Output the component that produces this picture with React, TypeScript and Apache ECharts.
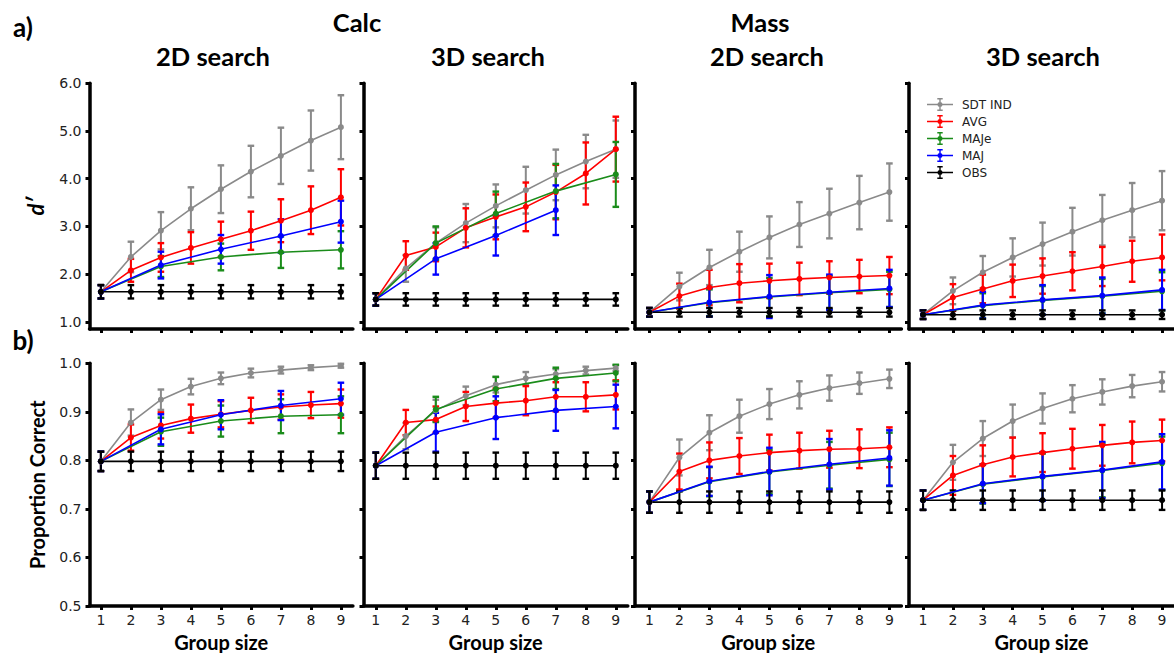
import React, { useEffect, useRef } from "react";
import * as echarts from "echarts";

// ---------- categories / labels ----------
const groupSizes = [1, 2, 3, 4, 5, 6, 7, 8, 9];
const seriesNames = ["SDT IND", "AVG", "MAJe", "MAJ", "OBS"];
const seriesColors = ["#8a8a8a", "#ff0000", "#1a8c1a", "#0000ff", "#000000"];
const columnTitles = ["2D search", "3D search", "2D search", "3D search"];
const taskTitles = ["Calc", "Mass"];
const rowLabels = ["a)", "b)"];
const rowYNames = ["d\u2032", "Proportion Correct"];
const xAxisName = "Group size";
const dPrimeTicks = [1, 2, 3, 4, 5, 6];
const pcTicks = [0.5, 0.6, 0.7, 0.8, 0.9, 1.0];

// ---------- a) d' : Calc 2D ----------
const calc2dD_sdt = [1.63, 2.36, 2.91, 3.37, 3.78, 4.15, 4.48, 4.80, 5.08];
const calc2dD_sdtErr = [0.14, 0.32, 0.39, 0.45, 0.50, 0.54, 0.59, 0.63, 0.67];
const calc2dD_avg = [1.63, 2.08, 2.35, 2.55, 2.73, 2.91, 3.12, 3.34, 3.61];
const calc2dD_avgErr = [0.14, 0.24, 0.30, 0.33, 0.37, 0.40, 0.45, 0.50, 0.59];
const calc2dD_maje = [1.63, null, 2.16, null, 2.36, null, 2.46, null, 2.51];
const calc2dD_majeErr = [0.14, null, 0.22, null, 0.28, null, 0.33, null, 0.39];
const calc2dD_maj = [1.63, null, 2.19, null, 2.52, null, 2.80, null, 3.10];
const calc2dD_majErr = [0.14, null, 0.28, null, 0.30, null, 0.35, null, 0.44];
const calc2dD_obs = [1.63, 1.63, 1.63, 1.63, 1.63, 1.63, 1.63, 1.63, 1.63];
const calc2dD_obsErr = [0.14, 0.14, 0.14, 0.14, 0.14, 0.14, 0.14, 0.14, 0.14];

// ---------- a) d' : Calc 3D ----------
const calc3dD_sdt = [1.47, 2.12, 2.65, 3.07, 3.43, 3.76, 4.08, 4.36, 4.62];
const calc3dD_sdtErr = [0.13, 0.28, 0.33, 0.40, 0.45, 0.49, 0.53, 0.56, 0.60];
const calc3dD_avg = [1.47, 2.39, 2.57, 2.97, 3.20, 3.41, 3.72, 4.11, 4.62];
const calc3dD_avgErr = [0.13, 0.30, 0.30, 0.41, 0.47, 0.51, 0.57, 0.65, 0.68];
const calc3dD_maje = [1.47, null, 2.65, null, 3.27, null, 3.74, null, 4.09];
const calc3dD_majeErr = [0.13, null, 0.35, null, 0.46, null, 0.57, null, 0.68];
const calc3dD_maj = [1.47, null, 2.32, null, 2.81, null, 3.34, null, null];
const calc3dD_majErr = [0.13, null, 0.33, null, 0.42, null, 0.52, null, null];
const calc3dD_obs = [1.47, 1.47, 1.47, 1.47, 1.47, 1.47, 1.47, 1.47, 1.47];
const calc3dD_obsErr = [0.13, 0.13, 0.13, 0.13, 0.13, 0.13, 0.13, 0.13, 0.13];

// ---------- a) d' : Mass 2D ----------
const mass2dD_sdt = [1.20, 1.74, 2.14, 2.47, 2.77, 3.04, 3.27, 3.50, 3.72];
const mass2dD_sdtErr = [0.09, 0.29, 0.37, 0.42, 0.44, 0.47, 0.52, 0.56, 0.60];
const mass2dD_avg = [1.20, 1.54, 1.72, 1.81, 1.86, 1.90, 1.93, 1.95, 1.97];
const mass2dD_avgErr = [0.09, 0.26, 0.37, 0.40, 0.36, 0.34, 0.34, 0.35, 0.39];
const mass2dD_maje = [1.20, null, 1.40, null, 1.52, null, 1.61, null, 1.68];
const mass2dD_majeErr = [0.09, null, 0.28, null, 0.40, null, 0.35, null, 0.37];
const mass2dD_maj = [1.20, null, 1.41, null, 1.53, null, 1.62, null, 1.70];
const mass2dD_majErr = [0.09, null, 0.30, null, 0.45, null, 0.37, null, 0.39];
const mass2dD_obs = [1.20, 1.20, 1.20, 1.20, 1.20, 1.20, 1.20, 1.20, 1.20];
const mass2dD_obsErr = [0.09, 0.09, 0.09, 0.09, 0.09, 0.09, 0.09, 0.09, 0.09];

// ---------- a) d' : Mass 3D ----------
const mass3dD_sdt = [1.15, 1.65, 2.04, 2.35, 2.63, 2.89, 3.13, 3.34, 3.54];
const mass3dD_sdtErr = [0.09, 0.28, 0.34, 0.40, 0.45, 0.50, 0.53, 0.57, 0.62];
const mass3dD_avg = [1.15, 1.51, 1.69, 1.86, 1.96, 2.06, 2.16, 2.27, 2.35];
const mass3dD_avgErr = [0.09, 0.28, 0.30, 0.34, 0.37, 0.40, 0.41, 0.43, 0.48];
const mass3dD_maje = [1.15, null, 1.34, null, 1.45, null, 1.54, null, 1.64];
const mass3dD_majeErr = [0.09, null, 0.26, null, 0.30, null, 0.36, null, 0.40];
const mass3dD_maj = [1.15, null, 1.35, null, 1.46, null, 1.55, null, 1.67];
const mass3dD_majErr = [0.09, null, 0.28, null, 0.31, null, 0.38, null, 0.42];
const mass3dD_obs = [1.15, 1.15, 1.15, 1.15, 1.15, 1.15, 1.15, 1.15, 1.15];
const mass3dD_obsErr = [0.09, 0.09, 0.09, 0.09, 0.09, 0.09, 0.09, 0.09, 0.09];

// ---------- b) proportion correct : Calc 2D ----------
const calc2dP_sdt = [0.798, 0.878, 0.925, 0.952, 0.969, 0.980, 0.986, 0.991, 0.995];
const calc2dP_sdtErr = [0.020, 0.027, 0.021, 0.016, 0.012, 0.009, 0.007, 0.005, 0.004];
const calc2dP_avg = [0.798, 0.847, 0.872, 0.886, 0.895, 0.903, 0.910, 0.914, 0.917];
const calc2dP_avgErr = [0.020, 0.027, 0.027, 0.029, 0.027, 0.026, 0.026, 0.027, 0.029];
const calc2dP_maje = [0.798, null, 0.859, null, 0.881, null, 0.891, null, 0.894];
const calc2dP_majeErr = [0.020, null, 0.029, null, 0.032, null, 0.035, null, 0.038];
const calc2dP_maj = [0.798, null, 0.864, null, 0.894, null, 0.913, null, 0.927];
const calc2dP_majErr = [0.020, null, 0.031, null, 0.030, null, 0.030, null, 0.033];
const calc2dP_obs = [0.798, 0.798, 0.798, 0.798, 0.798, 0.798, 0.798, 0.798, 0.798];
const calc2dP_obsErr = [0.020, 0.020, 0.020, 0.020, 0.020, 0.020, 0.020, 0.020, 0.020];

// ---------- b) proportion correct : Calc 3D ----------
const calc3dP_sdt = [0.789, 0.850, 0.903, 0.933, 0.956, 0.969, 0.978, 0.985, 0.990];
const calc3dP_sdtErr = [0.027, 0.027, 0.022, 0.019, 0.016, 0.013, 0.010, 0.008, 0.006];
const calc3dP_avg = [0.789, 0.878, 0.884, 0.911, 0.918, 0.923, 0.931, 0.931, 0.935];
const calc3dP_avgErr = [0.027, 0.026, 0.027, 0.030, 0.030, 0.030, 0.030, 0.030, 0.030];
const calc3dP_maje = [0.789, null, 0.905, null, 0.947, null, 0.969, null, 0.980];
const calc3dP_majeErr = [0.027, null, 0.026, null, 0.025, null, 0.022, null, 0.017];
const calc3dP_maj = [0.789, null, 0.858, null, 0.888, null, 0.903, null, 0.911];
const calc3dP_majErr = [0.027, null, 0.040, null, 0.044, null, 0.042, null, 0.045];
const calc3dP_obs = [0.789, 0.789, 0.789, 0.789, 0.789, 0.789, 0.789, 0.789, 0.789];
const calc3dP_obsErr = [0.027, 0.027, 0.027, 0.027, 0.027, 0.027, 0.027, 0.027, 0.027];

// ---------- b) proportion correct : Mass 2D ----------
const mass2dP_sdt = [0.714, 0.806, 0.857, 0.891, 0.916, 0.935, 0.949, 0.959, 0.968];
const mass2dP_sdtErr = [0.022, 0.037, 0.036, 0.034, 0.031, 0.028, 0.026, 0.022, 0.019];
const mass2dP_avg = [0.714, 0.777, 0.800, 0.809, 0.816, 0.820, 0.823, 0.824, 0.827];
const mass2dP_avgErr = [0.022, 0.037, 0.037, 0.037, 0.037, 0.037, 0.038, 0.040, 0.041];
const mass2dP_maje = [0.714, null, 0.756, null, 0.776, null, 0.790, null, 0.802];
const mass2dP_majeErr = [0.022, null, 0.030, null, 0.045, null, 0.048, null, 0.055];
const mass2dP_maj = [0.714, null, 0.757, null, 0.777, null, 0.792, null, 0.805];
const mass2dP_majErr = [0.022, null, 0.030, null, 0.049, null, 0.052, null, 0.057];
const mass2dP_obs = [0.714, 0.714, 0.714, 0.714, 0.714, 0.714, 0.714, 0.714, 0.714];
const mass2dP_obsErr = [0.022, 0.022, 0.022, 0.022, 0.022, 0.022, 0.022, 0.022, 0.022];

// ---------- b) proportion correct : Mass 3D ----------
const mass3dP_sdt = [0.718, 0.796, 0.845, 0.881, 0.907, 0.927, 0.941, 0.953, 0.962];
const mass3dP_sdtErr = [0.020, 0.036, 0.036, 0.034, 0.031, 0.028, 0.026, 0.023, 0.020];
const mass3dP_avg = [0.718, 0.769, 0.791, 0.807, 0.816, 0.824, 0.831, 0.837, 0.841];
const mass3dP_avgErr = [0.020, 0.040, 0.040, 0.040, 0.040, 0.041, 0.042, 0.043, 0.043];
const mass3dP_maje = [0.718, null, 0.751, null, 0.766, null, 0.779, null, 0.794];
const mass3dP_majeErr = [0.020, null, 0.040, null, 0.048, null, 0.055, null, 0.055];
const mass3dP_maj = [0.718, null, 0.752, null, 0.767, null, 0.780, null, 0.797];
const mass3dP_majErr = [0.020, null, 0.040, null, 0.050, null, 0.058, null, 0.057];
const mass3dP_obs = [0.718, 0.718, 0.718, 0.718, 0.718, 0.718, 0.718, 0.718, 0.718];
const mass3dP_obsErr = [0.020, 0.020, 0.020, 0.020, 0.020, 0.020, 0.020, 0.020, 0.020];

type Arr = (number | null)[];
interface Panel { row: number; col: number; means: Arr[]; errs: Arr[] }

const panels: Panel[] = [
  { row: 0, col: 0, means: [calc2dD_sdt, calc2dD_avg, calc2dD_maje, calc2dD_maj, calc2dD_obs], errs: [calc2dD_sdtErr, calc2dD_avgErr, calc2dD_majeErr, calc2dD_majErr, calc2dD_obsErr] },
  { row: 0, col: 1, means: [calc3dD_sdt, calc3dD_avg, calc3dD_maje, calc3dD_maj, calc3dD_obs], errs: [calc3dD_sdtErr, calc3dD_avgErr, calc3dD_majeErr, calc3dD_majErr, calc3dD_obsErr] },
  { row: 0, col: 2, means: [mass2dD_sdt, mass2dD_avg, mass2dD_maje, mass2dD_maj, mass2dD_obs], errs: [mass2dD_sdtErr, mass2dD_avgErr, mass2dD_majeErr, mass2dD_majErr, mass2dD_obsErr] },
  { row: 0, col: 3, means: [mass3dD_sdt, mass3dD_avg, mass3dD_maje, mass3dD_maj, mass3dD_obs], errs: [mass3dD_sdtErr, mass3dD_avgErr, mass3dD_majeErr, mass3dD_majErr, mass3dD_obsErr] },
  { row: 1, col: 0, means: [calc2dP_sdt, calc2dP_avg, calc2dP_maje, calc2dP_maj, calc2dP_obs], errs: [calc2dP_sdtErr, calc2dP_avgErr, calc2dP_majeErr, calc2dP_majErr, calc2dP_obsErr] },
  { row: 1, col: 1, means: [calc3dP_sdt, calc3dP_avg, calc3dP_maje, calc3dP_maj, calc3dP_obs], errs: [calc3dP_sdtErr, calc3dP_avgErr, calc3dP_majeErr, calc3dP_majErr, calc3dP_obsErr] },
  { row: 1, col: 2, means: [mass2dP_sdt, mass2dP_avg, mass2dP_maje, mass2dP_maj, mass2dP_obs], errs: [mass2dP_sdtErr, mass2dP_avgErr, mass2dP_majeErr, mass2dP_majErr, mass2dP_obsErr] },
  { row: 1, col: 3, means: [mass3dP_sdt, mass3dP_avg, mass3dP_maje, mass3dP_maj, mass3dP_obs], errs: [mass3dP_sdtErr, mass3dP_avgErr, mass3dP_majeErr, mass3dP_majErr, mass3dP_obsErr] },
];

// ---------- layout ----------
const colLeft = [89.5, 363.5, 635, 909];
const colXMin = [0.62, 0.59, 0.52, 0.53];
const xMaxVal = 9.4;
const unitPx = 30;
const rowTop = [83.3, 363.3];
const rowHeight = [245.7, 245];
const rowYMin = [0.85, 0.5];
const rowYMax = [6, 1];
const rowTicks = [dPrimeTicks, pcTicks];

const tickFont = "DejaVu Sans";
const titleFont = "Lato";

const legendIcon =
  "path://M0,6.3H26V7.7H0Z M12.3,1.2H13.7V12.8H12.3Z M10.3,0.5H15.7V2H10.3Z M10.3,12H15.7V13.5H10.3Z M13,4.4A2.6,2.6 0 1 1 12.99,4.4Z";

function makeErrorRender(color: string) {
  return (params: any, api: any) => {
    const x = api.value(0);
    const lo = api.value(1);
    const hi = api.value(2);
    const pLo = api.coord([x, lo]);
    const pHi = api.coord([x, hi]);
    const hw = 3.3;
    const st = { stroke: color, lineWidth: 2 };
    const cap = { stroke: color, lineWidth: 2.4 };
    return {
      type: "group",
      children: [
        { type: "line", shape: { x1: pLo[0], y1: pLo[1], x2: pHi[0], y2: pHi[1] }, style: st },
        { type: "line", shape: { x1: pLo[0] - hw, y1: pLo[1], x2: pLo[0] + hw, y2: pLo[1] }, style: cap },
        { type: "line", shape: { x1: pHi[0] - hw, y1: pHi[1], x2: pHi[0] + hw, y2: pHi[1] }, style: cap },
      ],
    };
  };
}

function buildOption() {
  const grids: any[] = [];
  const xAxes: any[] = [];
  const yAxes: any[] = [];
  const series: any[] = [];

  panels.forEach((p, pi) => {
    const xMin = colXMin[p.col];
    grids.push({
      left: colLeft[p.col],
      top: rowTop[p.row],
      width: (xMaxVal - xMin) * unitPx,
      height: rowHeight[p.row],
      containLabel: false,
    });
    const bottomRow = p.row === 1;
    xAxes.push({
      type: "value",
      gridIndex: pi,
      min: xMin,
      max: xMaxVal,
      splitLine: { show: false },
      axisLine: { show: true, onZero: false, lineStyle: { color: "#000", width: 3.5 } },
      axisTick: { show: true, customValues: groupSizes, length: 4, lineStyle: { color: "#000", width: 3 } },
      axisLabel: {
        show: bottomRow,
        customValues: groupSizes,
        margin: 7,
        fontFamily: tickFont,
        fontSize: 14,
        color: "#222",
      },
      name: bottomRow ? xAxisName : "",
      nameLocation: "middle",
      nameGap: 26,
      nameTextStyle: { fontFamily: titleFont, fontWeight: "bold", fontSize: 20, color: "#000" },
    });
    const firstCol = p.col === 0;
    yAxes.push({
      type: "value",
      gridIndex: pi,
      min: rowYMin[p.row],
      max: rowYMax[p.row],
      splitLine: { show: false },
      axisLine: { show: true, onZero: false, lineStyle: { color: "#000", width: 3.5 } },
      axisTick: { show: true, customValues: rowTicks[p.row], length: 4, lineStyle: { color: "#000", width: 3 } },
      axisLabel: {
        show: firstCol,
        customValues: rowTicks[p.row],
        formatter: (v: number) => v.toFixed(1),
        margin: 8,
        fontFamily: tickFont,
        fontSize: 14,
        color: "#222",
      },
      name: firstCol ? rowYNames[p.row] : "",
      nameLocation: "middle",
      nameRotate: 90,
      nameGap: 43,
      nameTextStyle: {
        fontFamily: titleFont,
        fontWeight: "bold",
        fontStyle: p.row === 0 ? "italic" : "normal",
        fontSize: p.row === 0 ? 22 : 20,
        color: "#000",
      },
    });

    seriesNames.forEach((name, si) => {
      const m = p.means[si];
      const e = p.errs[si];
      const color = seriesColors[si];
      const pts = groupSizes
        .map((g, i) => (m[i] == null ? null : [g, m[i] as number]))
        .filter((d) => d !== null);
      const bars = groupSizes
        .map((g, i) =>
          m[i] == null || e[i] == null ? null : [g, (m[i] as number) - (e[i] as number), (m[i] as number) + (e[i] as number)]
        )
        .filter((d) => d !== null);
      series.push({
        type: "custom",
        name: name + " error",
        xAxisIndex: pi,
        yAxisIndex: pi,
        data: bars,
        encode: { x: 0, y: [1, 2] },
        renderItem: makeErrorRender(color),
        silent: true,
        clip: false,
      });
      series.push({
        type: "line",
        name,
        xAxisIndex: pi,
        yAxisIndex: pi,
        data: pts,
        symbol: "circle",
        symbolSize: 6,
        showSymbol: true,
        showAllSymbol: true,
        color,
        lineStyle: { color, width: 1.6 },
        itemStyle: { color },
        emphasis: { disabled: true },
        silent: true,
      });
    });
  });

  const graphic: any[] = [];
  const addText = (text: string, x: number, y: number, size: number) =>
    graphic.push({
      type: "text",
      x,
      y,
      silent: true,
      style: {
        text,
        font: `bold ${size}px ${titleFont}`,
        fill: "#000",
        textAlign: "center",
        textVerticalAlign: "middle",
        align: "center",
        verticalAlign: "middle",
      },
    });
  addText(rowLabels[0], 23, 27, 26);
  addText(rowLabels[1], 23, 340, 26);
  addText(taskTitles[0], 357, 22, 25.5);
  addText(taskTitles[1], 760, 22, 25.5);
  const titleX = [213, 488, 767, 1043];
  columnTitles.forEach((t, i) => addText(t, titleX[i], 56, 25.5));

  return {
    animation: false,
    backgroundColor: "#ffffff",
    grid: grids,
    xAxis: xAxes,
    yAxis: yAxes,
    series,
    graphic,
    legend: {
      data: seriesNames,
      orient: "vertical",
      left: 922,
      top: 93,
      itemWidth: 26,
      itemHeight: 14,
      itemGap: 4,
      icon: legendIcon,
      selectedMode: false,
      textStyle: { fontFamily: tickFont, fontSize: 12, color: "#222", padding: [0, 0, 0, 4] },
    },
  };
}

export default function App() {
  const ref = useRef<HTMLDivElement>(null);
  useEffect(() => {
    if (!ref.current) return;
    const chart = echarts.init(ref.current, null, { renderer: "svg" });
    chart.setOption(buildOption() as any);
    return () => {
      chart.dispose();
    };
  }, []);
  return (
    <div
      ref={ref}
      style={{ position: "fixed", left: 0, top: 0, width: 1174, height: 653, background: "#fff" }}
    />
  );
}
